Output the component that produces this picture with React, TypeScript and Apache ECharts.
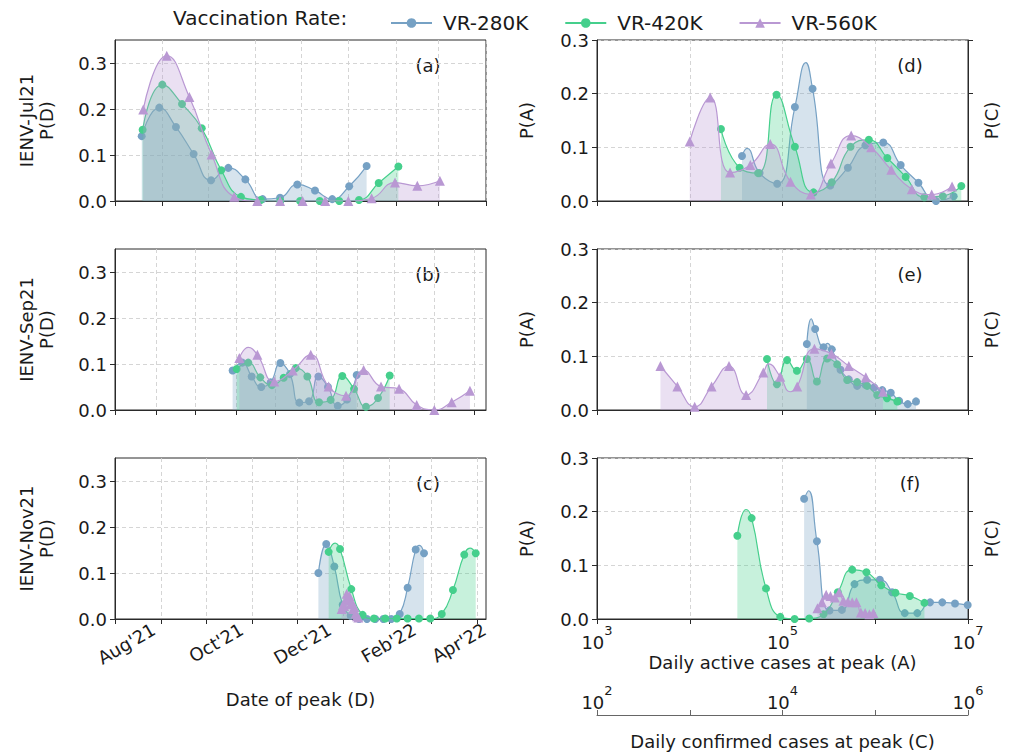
import { useEffect, useRef } from 'react';
import * as echarts from 'echarts';

const FONT = 'DejaVu Sans';
const TEXT = '#1a1a1a';
const AXC = '#2a2a2a';
const GRIDC = '#d0d0d0';
const FS = 18;

const seriesNames = ['VR-280K', 'VR-420K', 'VR-560K'];
const seriesColors = ['#76a1c4', '#45cf8c', '#b998d3'];
const seriesSymbols = ['circle', 'circle', 'triangle'];
const rowLabels = ['IENV-Jul21', 'IENV-Sep21', 'IENV-Nov21'];
const panelLetters = ['(a)', '(b)', '(c)', '(d)', '(e)', '(f)'];

// Date axes: days since 2021-08-01
const monthStartDays = [0, 31, 61, 92, 122, 153, 184, 212, 243, 273];
const dateTickLabels = ["Aug'21", "Oct'21", "Dec'21", "Feb'22", "Apr'22"];
const dateTickLabelDays = [26, 85, 144, 201, 248];
const datePanelMaxDay = [243, 282, 249];
const probTicks = [0, 0.1, 0.2, 0.3];

// ---- (a) IENV-Jul21, date of peak ----
const jul21DayVR280 = [17.5, 29.0, 39.9, 51.5, 62.9, 74.2, 85.4, 96.7, 108.1, 119.4, 131.0, 142.3, 153.4, 164.8];
const jul21PdVR280 = [0.141, 0.203, 0.161, 0.102, 0.045, 0.072, 0.047, 0.004, 0.007, 0.036, 0.023, 0.004, 0.032, 0.076];
const jul21DayVR420 = [18.1, 31.0, 43.9, 56.8, 69.6, 82.5, 95.4, 108.3, 121.2, 134.1, 146.9, 159.8, 172.7, 185.6];
const jul21PdVR420 = [0.155, 0.253, 0.211, 0.158, 0.067, 0.009, 0.002, 0.0, 0.0, 0.0, 0.0, 0.002, 0.039, 0.075];
const jul21DayVR560 = [18.5, 33.9, 48.7, 63.3, 78.1, 93.2, 108.1, 122.9, 137.7, 152.8, 168.1, 183.4, 198.0, 212.8];
const jul21PdVR560 = [0.199, 0.316, 0.226, 0.101, 0.009, 0.0, 0.0, 0.0, 0.0, 0.0, 0.006, 0.040, 0.033, 0.044];

// ---- (b) IENV-Sep21, date of peak ----
const sep21DayVR280 = [89.4, 96.8, 103.9, 111.2, 118.3, 125.7, 133.0, 140.1, 147.5, 154.6, 161.9, 169.3, 176.3, 183.7];
const sep21PdVR280 = [0.086, 0.103, 0.073, 0.050, 0.060, 0.102, 0.078, 0.016, 0.019, 0.073, 0.050, 0.009, 0.023, 0.076];
const sep21DayVR420 = [92.5, 101.3, 110.4, 119.3, 128.2, 137.4, 146.2, 155.1, 163.9, 172.8, 181.7, 190.8, 199.9, 208.8];
const sep21PdVR420 = [0.089, 0.103, 0.071, 0.054, 0.070, 0.091, 0.073, 0.017, 0.022, 0.074, 0.046, 0.007, 0.026, 0.075];
const sep21DayVR560 = [94.5, 108.2, 121.1, 135.1, 148.8, 162.4, 175.6, 189.0, 202.2, 215.9, 229.3, 242.7, 255.9, 269.8];
const sep21PdVR560 = [0.113, 0.120, 0.062, 0.086, 0.120, 0.051, 0.031, 0.087, 0.051, 0.046, 0.011, 0.000, 0.017, 0.042];
const sep21CurveDayVR560 = [101.3];
const sep21CurvePdVR560 = [0.136];

// ---- (c) IENV-Nov21, date of peak ----
const nov21DayVR280 = [136.5, 141.8, 147.2, 152.8, 158.2, 163.8, 169.1, 174.7, 180.1, 185.4, 191.1, 196.4, 201.8, 207.4];
const nov21PdVR280 = [0.100, 0.163, 0.114, 0.031, 0.007, 0.0, 0.0, 0.0, 0.0, 0.0, 0.011, 0.068, 0.151, 0.143];
const nov21CurveDayVR280 = [204.3];
const nov21CurvePdVR280 = [0.160];
const nov21DayVR420 = [143.4, 151.0, 158.6, 166.2, 173.8, 181.4, 189.1, 196.4, 204.0, 211.6, 219.3, 226.8, 234.4, 242.1];
const nov21PdVR420 = [0.146, 0.152, 0.065, 0.009, 0.001, 0.001, 0.001, 0.001, 0.001, 0.001, 0.011, 0.063, 0.140, 0.143];
const nov21CurveDayVR420 = [147.7, 238.3];
const nov21CurvePdVR420 = [0.165, 0.154];
const nov21DayVR560 = [152.1, 153.0, 153.8, 154.7, 155.5, 156.4, 157.3, 158.1, 159.0, 159.9, 160.7, 161.6, 162.4, 163.3];
const nov21PdVR560 = [0.022, 0.030, 0.028, 0.040, 0.055, 0.045, 0.050, 0.032, 0.036, 0.022, 0.026, 0.012, 0.006, 0.003];

// ---- (d) IENV-Jul21, daily active cases at peak ----
const jul21ActVR280 = [3.66e4, 5.66e4, 8.77e4, 1.36e5, 2.11e5, 3.27e5, 5.07e5, 7.84e5, 1.22e6, 1.88e6, 2.92e6, 4.52e6, 7.01e6];
const jul21PaVR280 = [0.084, 0.052, 0.032, 0.175, 0.209, 0.029, 0.062, 0.104, 0.109, 0.067, 0.034, 0.0, 0.009];
const jul21CurveActVR280 = [4.14e4, 1.79e5];
const jul21CurvePaVR280 = [0.098, 0.258];
const jul21ActVR420 = [2.17e4, 3.45e4, 5.45e4, 8.63e4, 1.36e5, 2.16e5, 3.40e5, 5.41e5, 8.53e5, 1.35e6, 2.13e6, 3.38e6, 5.35e6, 8.47e6];
const jul21PaVR420 = [0.134, 0.062, 0.052, 0.198, 0.101, 0.016, 0.035, 0.101, 0.114, 0.080, 0.045, 0.007, 0.009, 0.028];
const jul21ActVR560 = [1.0e4, 1.66e4, 2.72e4, 4.50e4, 7.38e4, 1.22e5, 2.02e5, 3.33e5, 5.50e5, 9.04e5, 1.49e6, 2.48e6, 4.06e6, 6.73e6];
const jul21PaVR560 = [0.111, 0.193, 0.053, 0.067, 0.106, 0.036, 0.012, 0.070, 0.122, 0.100, 0.058, 0.022, 0.012, 0.027];

// ---- (e) IENV-Sep21, daily active cases at peak ----
const sep21ActVR280 = [1.83e5, 2.25e5, 2.77e5, 3.40e5, 4.22e5, 5.19e5, 6.38e5, 7.84e5, 9.72e5, 1.19e6, 1.47e6, 1.81e6, 2.24e6, 2.75e6];
const sep21PaVR280 = [0.123, 0.151, 0.117, 0.113, 0.075, 0.057, 0.045, 0.047, 0.042, 0.037, 0.032, 0.017, 0.011, 0.016];
const sep21CurveActVR280 = [2.04e5, 3.05e5];
const sep21CurvePaVR280 = [0.170, 0.124];
const sep21ActVR420 = [6.81e4, 8.71e4, 1.12e5, 1.43e5, 1.83e5, 2.35e5, 3.03e5, 3.89e5, 4.98e5, 6.38e5, 8.18e5, 1.05e6, 1.34e6, 1.73e6];
const sep21PaVR420 = [0.095, 0.048, 0.093, 0.073, 0.095, 0.053, 0.096, 0.085, 0.056, 0.052, 0.045, 0.028, 0.022, 0.016];
const sep21ActVR560 = [4.83e3, 7.36e3, 1.13e4, 1.72e4, 2.65e4, 4.05e4, 6.21e4, 9.46e4, 1.44e5, 2.21e5, 3.37e5, 5.19e5, 7.91e5, 1.21e6];
const sep21PaVR560 = [0.082, 0.044, 0.006, 0.044, 0.082, 0.028, 0.070, 0.062, 0.044, 0.114, 0.105, 0.082, 0.061, 0.034];
const sep21CurveActVR560 = [7.08e4, 1.21e5];
const sep21CurvePaVR560 = [0.086, 0.034];

// ---- (f) IENV-Nov21, daily active cases at peak ----
const nov21ActVR280 = [1.71e5, 2.35e5, 3.21e5, 4.37e5, 5.97e5, 8.18e5, 1.12e6, 1.52e6, 2.08e6, 2.84e6, 3.90e6, 5.28e6, 7.24e6, 9.93e6];
const nov21PaVR280 = [0.224, 0.145, 0.016, 0.017, 0.065, 0.073, 0.073, 0.050, 0.011, 0.011, 0.031, 0.031, 0.029, 0.026];
const nov21CurveActVR280 = [1.91e5];
const nov21CurvePaVR280 = [0.239];
const nov21ActVR420 = [3.26e4, 4.65e4, 6.64e4, 9.46e4, 1.35e5, 1.94e5, 2.77e5, 3.95e5, 5.64e5, 8.04e5, 1.16e6, 1.65e6, 2.36e6, 3.39e6];
const nov21PaVR420 = [0.155, 0.188, 0.057, 0.004, 0.0, 0.001, 0.009, 0.050, 0.092, 0.087, 0.063, 0.049, 0.043, 0.030];
const nov21CurveActVR420 = [4.04e4];
const nov21CurvePaVR420 = [0.204];
const nov21ActVR560 = [2.38e5, 2.66e5, 2.96e5, 3.29e5, 3.67e5, 4.08e5, 4.54e5, 5.07e5, 5.64e5, 6.27e5, 7.00e5, 7.78e5, 8.65e5, 9.55e5];
const nov21PaVR560 = [0.020, 0.031, 0.045, 0.043, 0.040, 0.050, 0.034, 0.032, 0.031, 0.031, 0.012, 0.011, 0.009, 0.011];

const activeAxisExps = [3, 5, 7];
const confirmedAxisExps = [2, 4, 6];

type Pts = { xs: number[]; ys: number[]; cx?: number[]; cy?: number[] };

function buildData(p: Pts) {
  const pts: any[] = p.xs.map((x, i) => ({ value: [x, p.ys[i]] }));
  (p.cx || []).forEach((x, i) => pts.push({ value: [x, (p.cy || [])[i]], symbol: 'none' }));
  pts.sort((a, b) => a.value[0] - b.value[0]);
  return pts;
}

const GRID_LEFT = [115, 597];
const GRID_TOP = [40, 249, 458];
const GRID_W = 371;
const GRID_H = 161;

function sup(e: number) {
  return '{b|10}{s|' + e + '}';
}
const supRich = {
  b: { fontSize: FS, lineHeight: 27, color: TEXT, fontFamily: FONT, verticalAlign: 'bottom' },
  s: { fontSize: 13, lineHeight: 14, color: TEXT, fontFamily: FONT, verticalAlign: 'top' },
};

function buildOption() {
  const panels: Pts[][] = [
    [
      { xs: jul21DayVR280, ys: jul21PdVR280 },
      { xs: jul21DayVR420, ys: jul21PdVR420 },
      { xs: jul21DayVR560, ys: jul21PdVR560 },
    ],
    [
      { xs: sep21DayVR280, ys: sep21PdVR280 },
      { xs: sep21DayVR420, ys: sep21PdVR420 },
      { xs: sep21DayVR560, ys: sep21PdVR560, cx: sep21CurveDayVR560, cy: sep21CurvePdVR560 },
    ],
    [
      { xs: nov21DayVR280, ys: nov21PdVR280, cx: nov21CurveDayVR280, cy: nov21CurvePdVR280 },
      { xs: nov21DayVR420, ys: nov21PdVR420, cx: nov21CurveDayVR420, cy: nov21CurvePdVR420 },
      { xs: nov21DayVR560, ys: nov21PdVR560 },
    ],
    [
      { xs: jul21ActVR280, ys: jul21PaVR280, cx: jul21CurveActVR280, cy: jul21CurvePaVR280 },
      { xs: jul21ActVR420, ys: jul21PaVR420 },
      { xs: jul21ActVR560, ys: jul21PaVR560 },
    ],
    [
      { xs: sep21ActVR280, ys: sep21PaVR280, cx: sep21CurveActVR280, cy: sep21CurvePaVR280 },
      { xs: sep21ActVR420, ys: sep21PaVR420 },
      { xs: sep21ActVR560, ys: sep21PaVR560, cx: sep21CurveActVR560, cy: sep21CurvePaVR560 },
    ],
    [
      { xs: nov21ActVR280, ys: nov21PaVR280, cx: nov21CurveActVR280, cy: nov21CurvePaVR280 },
      { xs: nov21ActVR420, ys: nov21PaVR420, cx: nov21CurveActVR420, cy: nov21CurvePaVR420 },
      { xs: nov21ActVR560, ys: nov21PaVR560 },
    ],
  ];

  const grid: any[] = [];
  const xAxis: any[] = [];
  const yAxis: any[] = [];
  const series: any[] = [];
  const graphic: any[] = [];

  const axisLine = { show: true, onZero: false, lineStyle: { color: AXC, width: 1 } };
  const splitLine = { show: true, lineStyle: { color: GRIDC, type: [4, 3], width: 0.9 } };
  const nameStyle = { fontSize: FS, color: TEXT, fontFamily: FONT, lineHeight: 20 };

  for (let g = 0; g < 6; g++) {
    const col = g < 3 ? 0 : 1;
    const row = g % 3;
    grid.push({
      left: GRID_LEFT[col], top: GRID_TOP[row], width: GRID_W, height: GRID_H,
      show: true, borderColor: AXC, borderWidth: 1, backgroundColor: 'rgba(0,0,0,0)',
    });
    if (col === 0) {
      const max = datePanelMaxDay[row];
      xAxis.push({
        gridIndex: g, type: 'value', min: 0, max,
        axisLine,
        axisTick: { show: true, length: 5, customValues: monthStartDays.filter((d) => d <= max), lineStyle: { color: AXC } },
        axisLabel: row === 2
          ? {
              show: true, customValues: dateTickLabelDays, rotate: 30, margin: 9,
              fontSize: FS, color: TEXT, fontFamily: FONT,
              formatter: (v: number) => {
                const i = dateTickLabelDays.findIndex((d) => Math.abs(d - v) < 0.01);
                return i >= 0 ? dateTickLabels[i] : '';
              },
            }
          : { show: false },
        splitLine,
        name: row === 2 ? 'Date of peak (D)' : '',
        nameLocation: 'middle', nameGap: 70, nameTextStyle: nameStyle,
      });
    } else {
      xAxis.push({
        gridIndex: g, type: 'log', logBase: 10, min: 1e3, max: 1e7,
        axisLine,
        axisTick: { show: true, length: 5, lineStyle: { color: AXC } },
        minorTick: { show: false },
        axisLabel: row === 2
          ? {
              show: true, margin: 5, showMinLabel: true, showMaxLabel: true,
              formatter: (v: number) => {
                const e = Math.round(Math.log10(v));
                return activeAxisExps.includes(e) ? sup(e) : '';
              },
              rich: supRich,
            }
          : { show: false },
        splitLine,
        name: row === 2 ? 'Daily active cases at peak (A)' : '',
        nameLocation: 'middle', nameGap: 33, nameTextStyle: nameStyle,
      });
    }
    yAxis.push({
      gridIndex: g, type: 'value', min: 0, max: col === 0 ? 0.35 : 0.3,
      axisLine,
      axisTick: { show: true, length: 5, customValues: probTicks, lineStyle: { color: AXC } },
      axisLabel: {
        show: true, customValues: probTicks, margin: 8, showMaxLabel: true, showMinLabel: true,
        fontSize: FS, color: TEXT, fontFamily: FONT,
        formatter: (v: number) => v.toFixed(1),
      },
      splitLine,
      name: col === 0 ? rowLabels[row] + '\nP(D)' : 'P(A)',
      nameLocation: 'middle', nameRotate: 90, nameGap: col === 0 ? 59 : 61,
      nameTextStyle: nameStyle,
    });
    graphic.push({
      type: 'text',
      x: col === 0 ? 428 : 910,
      y: GRID_TOP[row] + 25,
      style: { text: panelLetters[g], fontSize: FS, fill: TEXT, fontFamily: FONT, align: 'center', verticalAlign: 'middle' },
    });

    panels[g].forEach((p, k) => {
      series.push({
        type: 'line', name: seriesNames[k], xAxisIndex: g, yAxisIndex: g,
        data: buildData(p), smooth: 0.5,
        symbol: seriesSymbols[k], symbolSize: k === 2 ? 10 : 8, showAllSymbol: true,
        lineStyle: { width: 1.2, color: seriesColors[k] },
        itemStyle: { color: seriesColors[k] },
        areaStyle: { color: seriesColors[k], opacity: 0.3 },
        emphasis: { disabled: true },
        z: 2 + k,
      });
    });
  }

  // twin P(C) axes on the right panels
  for (let row = 0; row < 3; row++) {
    yAxis.push({
      gridIndex: 3 + row, type: 'value', position: 'right', min: 0, max: 0.3,
      axisLine,
      axisTick: { show: true, length: 5, customValues: probTicks, lineStyle: { color: AXC } },
      axisLabel: { show: false },
      splitLine: { show: false },
      name: 'P(C)', nameLocation: 'middle', nameRotate: 90, nameGap: 13,
      nameTextStyle: nameStyle,
    });
  }

  // secondary axis: daily confirmed cases (C)
  grid.push({ left: GRID_LEFT[1], top: 715, width: GRID_W, height: 1, show: false });
  xAxis.push({
    gridIndex: 6, type: 'log', logBase: 10, min: 1e2, max: 1e6, position: 'top',
    axisLine: { show: true, onZero: false, lineStyle: { color: '#666', width: 1 } },
    axisTick: { show: true, length: 5, lineStyle: { color: '#666' } },
    minorTick: { show: false },
    axisLabel: {
      show: true, margin: 4, showMinLabel: true, showMaxLabel: true,
      formatter: (v: number) => {
        const e = Math.round(Math.log10(v));
        return confirmedAxisExps.includes(e) ? sup(e) : '';
      },
      rich: supRich,
    },
    splitLine: { show: false },
  });
  yAxis.push({ gridIndex: 6, type: 'value', show: false, min: 0, max: 1 });

  graphic.push({
    type: 'text', x: GRID_LEFT[1] + GRID_W / 2, y: 741,
    style: { text: 'Daily confirmed cases at peak (C)', fontSize: FS, fill: TEXT, fontFamily: FONT, align: 'center', verticalAlign: 'middle' },
  });
  graphic.push({
    type: 'text', x: 173, y: 18,
    style: { text: 'Vaccination Rate:', fontSize: 20, fill: TEXT, fontFamily: FONT, align: 'left', verticalAlign: 'middle' },
  });

  return {
    animation: false,
    textStyle: { fontFamily: FONT },
    legend: {
      data: seriesNames, left: 385, top: 8, itemWidth: 41, itemHeight: 12, itemGap: 36,
      selectedMode: false,
      textStyle: { fontSize: 20, color: TEXT, fontFamily: FONT, padding: [0, 0, 0, 6] },
    },
    grid, xAxis, yAxis, series, graphic,
  };
}

export default function App() {
  const ref = useRef<HTMLDivElement>(null);
  useEffect(() => {
    document.body.style.margin = '0';
    const chart = echarts.init(ref.current!, null, { renderer: 'svg' });
    chart.setOption(buildOption() as any);
    return () => chart.dispose();
  }, []);
  return <div ref={ref} style={{ width: 1012, height: 754 }} />;
}
